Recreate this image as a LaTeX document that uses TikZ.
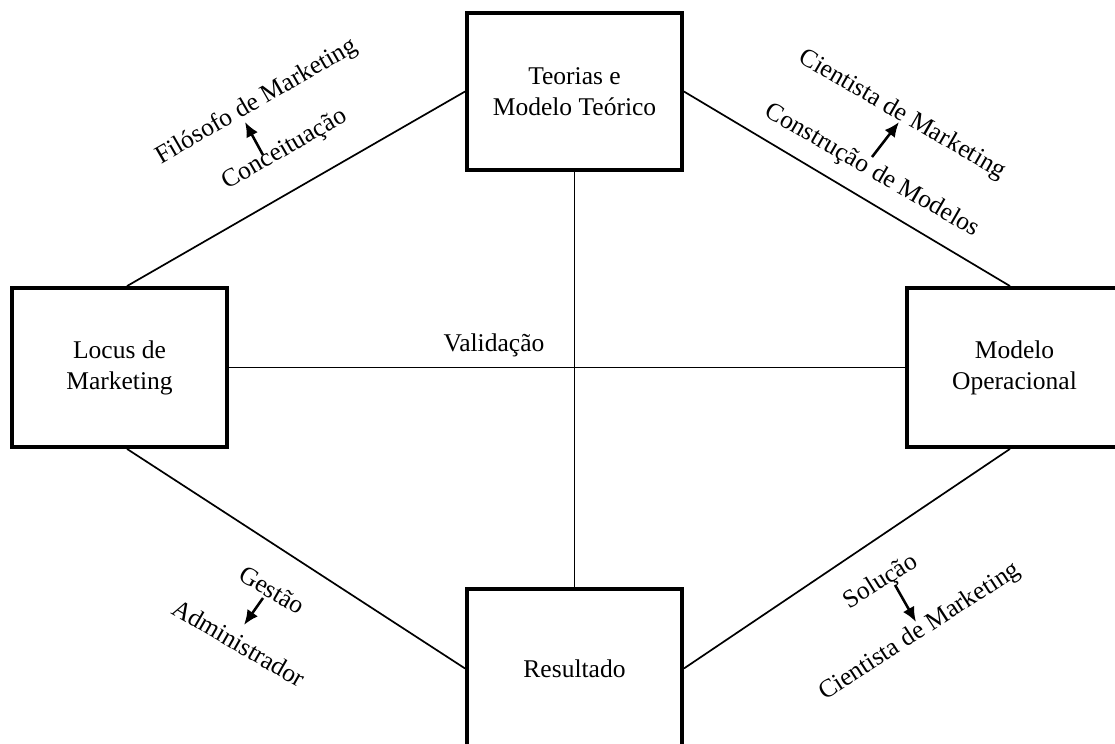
\documentclass[tikz,border=0pt]{standalone}
\usepackage{fontspec}
\setmainfont{Liberation Serif}
\usepackage{tikz}
\usetikzlibrary{arrows.meta}
\newcommand{\px}{0.47pt}

\begin{document}
\begin{tikzpicture}[x=0.47pt, y=-0.47pt, font=\fontsize{12}{14.5}\selectfont]
\tikzstyle{caixa}=[rectangle, draw, line width=1.8pt, minimum width=215*\px, minimum height=159*\px, align=center, inner sep=0pt]
\tikzstyle{linha}=[line width=0.8pt]
\tikzstyle{rotulo}=[inner sep=0pt]
\tikzstyle{seta}=[-{Latex[length=7pt, width=6pt]}, line width=1.2pt]
\useasboundingbox (0,0) rectangle (1115,744);
\clip (0,0) rectangle (1115,744);
% caixas
\node[caixa, minimum height=157*\px] (T) at (574.5,91.5) {Teorias e\\Modelo Teórico};
\node[caixa] (L) at (119.5,367.5) {Locus de\\Marketing};
\node[caixa] (R) at (1014.5,367.5) {Modelo\\Operacional};
\node[caixa] (B) at (574.5,668.5) {Resultado};
% ligacoes
\path[linha] ([xshift=7.5*\px]L.north) edge (T.west)
(T.east) edge ([xshift=-4.5*\px]R.north)
([xshift=7.5*\px]L.south) edge (B.west)
([xshift=-4.5*\px]R.south) edge (B.east)
(T.south) edge (B.north)
(L.east) edge (R.west);
\node[rotulo] (val) at (494,345) {Validação};
% rotulos
\node[rotulo, rotate=30] (filo) at (257,102) {Filósofo de Marketing};
\node[rotulo, rotate=30] (conc) at (285,150) {Conceituação};
\node[rotulo, rotate=-30] (cien) at (902,115) {Cientista de Marketing};
\node[rotulo, rotate=-30] (cons) at (872,171) {Construção de Modelos};
\node[rotulo, rotate=-30] (gest) at (272,590) {Gestão};
\node[rotulo, rotate=-30] (admi) at (239,643) {Administrador};
\node[rotulo, rotate=32] (solu) at (881,582) {Solução};
\node[rotulo, rotate=33] (cie2) at (920,632) {Cientista de Marketing};
\draw[seta] ([shift={(-22,5)}]conc.center) -- ([shift={(-12,20)}]filo.center);
\draw[seta] ([shift={(0,-14)}]cons.center) -- ([shift={(-3,7)}]cien.center);
\draw[seta] ([shift={(-9,8)}]gest.center) -- ([shift={(5,-18)}]admi.center);
\draw[seta] ([shift={(14,3)}]solu.center) -- ([shift={(-4,-10)}]cie2.center);

\end{tikzpicture}
\end{document}
